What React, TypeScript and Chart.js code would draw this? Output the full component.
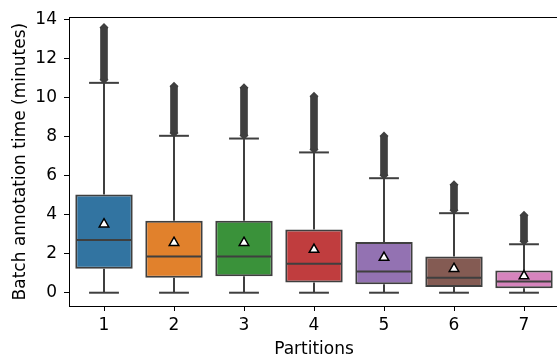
import React, { useEffect, useRef } from 'react';
import { Chart, registerables } from 'chart.js';

Chart.register(...registerables);

const categories = ['1', '2', '3', '4', '5', '6', '7'];
const q1 = [1.23, 0.77, 0.84, 0.52, 0.43, 0.29, 0.23];
const medians = [2.7, 1.85, 1.85, 1.48, 1.09, 0.77, 0.57];
const q3 = [5.03, 3.68, 3.68, 3.24, 2.6, 1.85, 1.14];
const whiskerLow = [0, 0, 0, 0, 0, 0, 0];
const whiskerHigh = [10.74, 8.03, 7.89, 7.18, 5.86, 4.07, 2.48];
const means = [3.51, 2.56, 2.56, 2.21, 1.8, 1.23, 0.85];
const outlierMin = [10.9, 8.18, 8.04, 7.33, 6.01, 4.22, 2.63];
const outlierMax = [13.57, 10.57, 10.49, 10.05, 8.02, 5.53, 3.96];
const yTicks = [0, 2, 4, 6, 8, 10, 12, 14];
const boxColors = ['#3274a1', '#e1812c', '#3a923a', '#c03d3e', '#9372b2', '#845b53', '#d684bd'];

const EDGE = '#3f3f3f';
const FONT = 'DejaVu Sans';

const boxPlugin = {
  id: 'boxParts',
  beforeDatasetsDraw(chart: any) {
    const { ctx, scales } = chart;
    const x = scales.x;
    const y = scales.y;
    const meta = chart.getDatasetMeta(0);
    ctx.save();
    ctx.strokeStyle = EDGE;
    ctx.lineWidth = 2;
    ctx.lineCap = 'butt';
    categories.forEach((_, i) => {
      const cx = x.getPixelForValue(i);
      const el = meta.data[i];
      const capHalf = (el ? el.width : 56) * 0.26;
      const segs: [number, number][] = [
        [q3[i], whiskerHigh[i]],
        [q1[i], whiskerLow[i]],
      ];
      segs.forEach(([a, b]) => {
        ctx.beginPath();
        ctx.moveTo(cx, y.getPixelForValue(a));
        ctx.lineTo(cx, y.getPixelForValue(b));
        ctx.stroke();
        ctx.beginPath();
        ctx.moveTo(cx - capHalf, y.getPixelForValue(b));
        ctx.lineTo(cx + capHalf, y.getPixelForValue(b));
        ctx.stroke();
      });
    });
    ctx.restore();
  },
  afterDatasetDraw(chart: any, args: any) {
    if (args.index !== 0) return;
    const { ctx, scales } = chart;
    const y = scales.y;
    const meta = chart.getDatasetMeta(0);
    ctx.save();
    ctx.strokeStyle = EDGE;
    ctx.lineWidth = 2;
    categories.forEach((_, i) => {
      const el = meta.data[i];
      const py = y.getPixelForValue(medians[i]);
      ctx.beginPath();
      ctx.moveTo(el.x - el.width / 2 + 1, py);
      ctx.lineTo(el.x + el.width / 2 - 1, py);
      ctx.stroke();
    });
    ctx.restore();
  },
  afterDraw(chart: any) {
    const { ctx, chartArea } = chart;
    const meta = chart.getDatasetMeta(0);
    const last = meta.data[meta.data.length - 1];
    const maskLeft = last ? last.x + last.width / 2 + 1.5 : chartArea.right - 4;
    ctx.save();
    // keep the region right of the last box clean (right spine is off-canvas)
    ctx.fillStyle = '#ffffff';
    ctx.fillRect(maskLeft, chartArea.top + 1, chart.width - maskLeft, chartArea.bottom - chartArea.top - 2);
    // top spine
    ctx.strokeStyle = '#000';
    ctx.lineWidth = 1;
    ctx.beginPath();
    ctx.moveTo(chartArea.left, Math.round(chartArea.top) + 0.5);
    ctx.lineTo(chart.width, Math.round(chartArea.top) + 0.5);
    ctx.stroke();
    ctx.restore();
  },
};

export default function App() {
  const canvasRef = useRef<HTMLCanvasElement | null>(null);

  useEffect(() => {
    if (!canvasRef.current) return;
    const chart = new Chart(canvasRef.current, {
      type: 'bar',
      data: {
        labels: categories,
        datasets: [
          {
            type: 'bar',
            label: 'box',
            data: categories.map((_, i) => [q1[i], q3[i]]),
            backgroundColor: boxColors,
            borderColor: EDGE,
            borderWidth: 2,
            borderSkipped: false,
            barPercentage: 0.82,
            categoryPercentage: 1,
            grouped: false,
            order: 2,
          } as any,
          {
            type: 'bar',
            label: 'outliers',
            data: categories.map((_, i) => [outlierMin[i], outlierMax[i]]),
            backgroundColor: EDGE,
            borderWidth: 0,
            barThickness: 7,
            grouped: false,
            order: 3,
          } as any,
          {
            type: 'line',
            label: 'outlierLow',
            data: outlierMin,
            showLine: false,
            borderColor: 'rgba(0,0,0,0)',
            pointStyle: 'rectRot',
            pointRadius: 4.5,
            pointBackgroundColor: EDGE,
            pointBorderColor: EDGE,
            pointBorderWidth: 0,
            order: 3,
          } as any,
          {
            type: 'line',
            label: 'outlierHigh',
            data: outlierMax,
            showLine: false,
            borderColor: 'rgba(0,0,0,0)',
            pointStyle: 'rectRot',
            pointRadius: 4.5,
            pointBackgroundColor: EDGE,
            pointBorderColor: EDGE,
            pointBorderWidth: 0,
            order: 3,
          } as any,
          {
            type: 'line',
            label: 'mean',
            data: means,
            showLine: false,
            borderColor: 'rgba(0,0,0,0)',
            pointStyle: 'triangle',
            pointRadius: 5.5,
            pointBackgroundColor: '#ffffff',
            pointBorderColor: '#000000',
            pointBorderWidth: 1.5,
            order: 0,
          } as any,
        ],
      },
      options: {
        responsive: true,
        maintainAspectRatio: false,
        animation: false,
        layout: { autoPadding: false, padding: { top: 15, right: 1, left: 0, bottom: 0 } },
        plugins: { legend: { display: false }, tooltip: { enabled: false } },
        scales: {
          x: {
            offset: true,
            grid: {
              offset: false,
              color: 'rgba(0,0,0,0)',
              drawOnChartArea: false,
              drawTicks: true,
              tickLength: 5,
              tickColor: '#000',
              tickWidth: 1,
            },
            border: { display: true, color: '#000', width: 1 },
            ticks: { color: '#000', font: { family: FONT, size: 17 }, padding: 4, maxRotation: 0 },
            title: {
              display: true,
              text: 'Partitions',
              color: '#000',
              font: { family: FONT, size: 17, lineHeight: 0.85 },
              padding: { top: 0, bottom: 0 },
            },
            afterFit: (s: any) => {
              s.height = 51;
            },
          },
          y: {
            min: -0.68,
            max: 14.1,
            afterBuildTicks: (s: any) => {
              s.ticks = yTicks.map((v) => ({ value: v }));
            },
            grid: {
              color: 'rgba(0,0,0,0)',
              drawOnChartArea: false,
              drawTicks: true,
              tickLength: 5,
              tickColor: '#000',
              tickWidth: 1,
            },
            border: { display: true, color: '#000', width: 1 },
            ticks: { color: '#000', font: { family: FONT, size: 17 }, padding: 7 },
            title: {
              display: true,
              text: 'Batch annotation time (minutes)',
              color: '#000',
              font: { family: FONT, size: 17 },
              padding: { top: 10, bottom: 0 },
            },
            afterFit: (s: any) => {
              s.width = 69;
            },
          },
        },
      } as any,
      plugins: [boxPlugin],
    });
    return () => chart.destroy();
  }, []);

  return (
    <div
      style={{
        position: 'fixed',
        left: 0,
        top: 0,
        width: 557,
        height: 357,
        overflow: 'hidden',
        background: '#fff',
      }}
    >
      <div style={{ position: 'relative', width: 560, height: 357 }}>
        <canvas ref={canvasRef} />
      </div>
    </div>
  );
}
